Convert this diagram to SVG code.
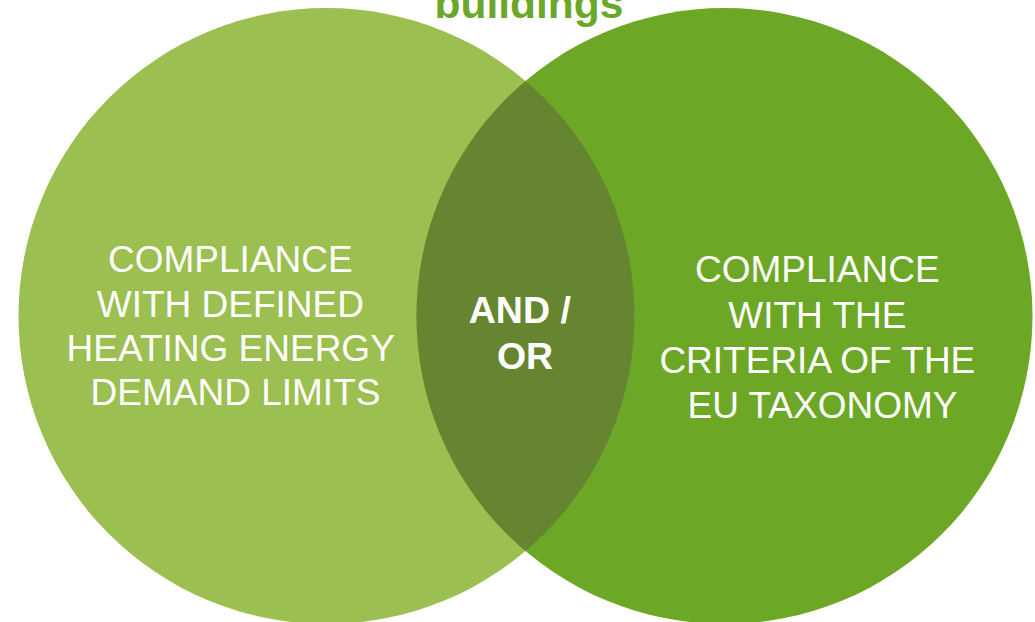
<svg xmlns="http://www.w3.org/2000/svg" width="1035" height="622" viewBox="0 0 1035 622">
  <defs>
    <style>
      .label { font-family: "Liberation Sans", Arial, sans-serif; font-size: 37px; fill: #ffffff; text-anchor: middle; }
      .bold { font-weight: bold; font-size: 37.5px; }
      .title { font-family: "Liberation Sans", Arial, sans-serif; font-size: 42.5px; font-weight: bold; fill: #6ba82a; text-anchor: middle; }
    </style>
    <clipPath id="leftClip">
      <circle cx="326.5" cy="316" r="308"/>
    </clipPath>
  </defs>
  <rect width="1035" height="622" fill="#ffffff"/>

  <!-- heading, partly above the top edge -->
  <g id="title">
    <text class="title" x="529" y="18">buildings</text>
  </g>

  <g id="left-set">
    <circle cx="326.5" cy="316" r="308" fill="#9bbf50"/>
  </g>

  <g id="right-set">
    <circle cx="724.5" cy="316" r="308" fill="#6ca826"/>
  </g>

  <!-- lens where both sets overlap -->
  <g id="overlap">
    <circle cx="724.5" cy="316" r="308" fill="#668530" clip-path="url(#leftClip)"/>
  </g>

  <g id="left-label">
    <text class="label" x="235.5">
      <tspan x="235.5" y="272">COMPLIANCE</tspan>
      <tspan x="235.5" y="317">WITH DEFINED</tspan>
      <tspan x="235.5" y="361">HEATING ENERGY</tspan>
      <tspan x="235.5" y="405">DEMAND LIMITS</tspan>
    </text>
  </g>

  <g id="right-label">
    <text class="label" x="822.5">
      <tspan x="822.5" y="282">COMPLIANCE</tspan>
      <tspan x="822.5" y="328">WITH THE</tspan>
      <tspan x="822.5" y="373">CRITERIA OF THE</tspan>
      <tspan x="822.5" y="418">EU TAXONOMY</tspan>
    </text>
  </g>

  <g id="overlap-label">
    <text class="label bold" x="525">
      <tspan x="525" y="323">AND /</tspan>
      <tspan x="525" y="369">OR</tspan>
    </text>
  </g>

  <g id="connectors"/>
</svg>
